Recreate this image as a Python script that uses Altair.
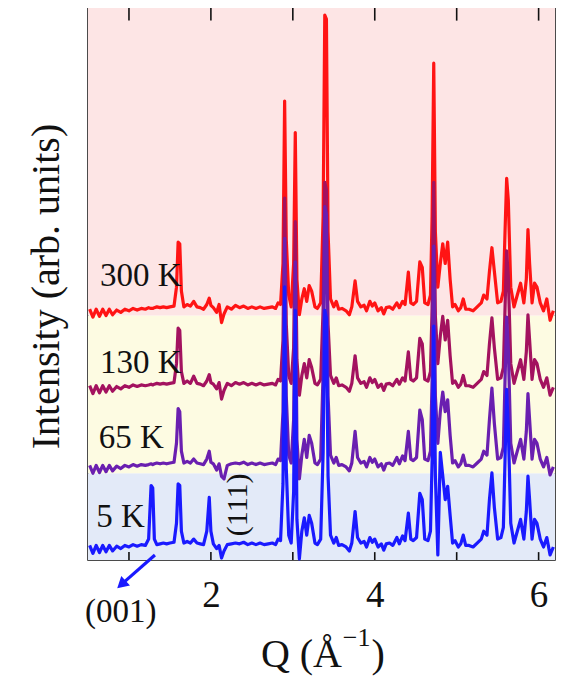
import altair as alt
import pandas as pd

# ---------------- data ----------------
q_values = [
    0.52, 0.56, 0.60, 0.64, 0.68, 0.72, 0.76, 0.80, 0.85, 0.90,
    0.95, 1.00, 1.05, 1.10, 1.15, 1.20, 1.24, 1.27, 1.29, 1.31,
    1.34, 1.38, 1.42, 1.46, 1.50, 1.55, 1.58, 1.60, 1.62, 1.64,
    1.67, 1.71, 1.75, 1.79, 1.83, 1.87, 1.91, 1.95, 1.98, 2.00,
    2.03, 2.07, 2.10, 2.13, 2.16, 2.20, 2.25, 2.30, 2.35, 2.40,
    2.45, 2.50, 2.55, 2.60, 2.65, 2.70, 2.75, 2.79, 2.82, 2.85,
    2.88, 2.90, 2.92, 2.95, 2.98, 3.01, 3.03, 3.05, 3.08, 3.11,
    3.14, 3.17, 3.20, 3.23, 3.27, 3.30, 3.34, 3.37, 3.39, 3.41,
    3.43, 3.46, 3.50, 3.53, 3.56, 3.60, 3.65, 3.69, 3.72, 3.76,
    3.79, 3.83, 3.87, 3.90, 3.94, 3.97, 4.00, 4.04, 4.08, 4.11,
    4.14, 4.18, 4.22, 4.27, 4.30, 4.34, 4.37, 4.41, 4.44, 4.47,
    4.51, 4.55, 4.58, 4.61, 4.65, 4.68, 4.70, 4.72, 4.74, 4.77,
    4.80, 4.83, 4.86, 4.89, 4.92, 4.95, 4.98, 5.02, 5.05, 5.08,
    5.11, 5.15, 5.20, 5.25, 5.30, 5.33, 5.37, 5.40, 5.43, 5.46,
    5.50, 5.54, 5.57, 5.59, 5.61, 5.63, 5.66, 5.70, 5.74, 5.78,
    5.82, 5.85, 5.87, 5.89, 5.92, 5.95, 5.98, 6.02, 6.06, 6.10,
    6.14, 6.18,
]

intensity_300K = [
    0.02, -0.08, 0.02, -0.07, 0.02, -0.06, 0.02, -0.05, 0.01, -0.02,
    0.02, 0.00, 0.03, 0.01, 0.03, 0.02, 0.04, 0.03, 0.03, 0.04,
    0.05, 0.04, 0.05, 0.04, 0.05, 0.06, 0.30, 0.87, 0.85, 0.25,
    0.05, 0.08, 0.06, 0.12, 0.05, 0.04, 0.02, 0.08, 0.16, 0.07,
    0.04, -0.02, 0.08, -0.15, -0.04, 0.05, 0.02, 0.07, 0.04, 0.06,
    0.03, 0.05, 0.03, 0.05, 0.03, 0.04, 0.05, 0.03, 0.10, 0.08,
    0.60, 2.66, 0.90, 0.20, 0.05, 0.60, 2.26, 0.40, -0.05, 0.15,
    0.28, 0.12, 0.32, 0.25, 0.05, 0.03, 0.10, 1.20, 3.75, 3.70,
    1.00, 0.15, 0.05, 0.12, 0.02, 0.03, 0.00, -0.05, 0.05, 0.38,
    0.12, 0.05, 0.07, 0.00, 0.12, 0.06, 0.10, 0.00, 0.04, -0.04,
    0.04, 0.05, 0.02, 0.10, 0.04, 0.12, 0.08, 0.49, 0.10, 0.08,
    0.12, 0.62, 0.55, 0.10, 0.08, 0.20, 1.20, 3.14, 1.00, 0.30,
    0.60, 0.85, 0.60, 0.87, 0.40, 0.05, 0.08, 0.00, 0.04, 0.15,
    0.02, 0.02, 0.00, 0.05, 0.10, 0.20, 0.15, 0.50, 0.80, 0.50,
    0.10, 0.12, 0.25, 1.00, 1.68, 1.40, 0.30, 0.05, 0.20, 0.35,
    0.10, 0.40, 1.03, 0.60, 0.10, 0.35, 0.30, 0.10, 0.00, 0.15,
    -0.12, 0.00,
]

intensity_130K = [
    0.02, -0.08, 0.02, -0.07, 0.02, -0.06, 0.02, -0.05, 0.01, -0.02,
    0.02, 0.00, 0.03, 0.01, 0.03, 0.02, 0.03, 0.04, 0.03, 0.04,
    0.05, 0.04, 0.05, 0.04, 0.05, 0.06, 0.30, 0.75, 0.72, 0.20,
    0.05, 0.08, 0.05, 0.14, 0.05, 0.04, 0.02, 0.08, 0.16, 0.06,
    0.04, -0.02, 0.06, -0.15, -0.04, 0.05, 0.02, 0.06, 0.04, 0.06,
    0.03, 0.05, 0.03, 0.05, 0.03, 0.04, 0.05, 0.03, 0.10, 0.08,
    0.60, 2.40, 0.80, 0.15, 0.05, 0.50, 2.10, 0.35, -0.10, 0.15,
    0.30, 0.12, 0.35, 0.25, 0.05, 0.03, 0.10, 1.00, 2.60, 2.50,
    0.80, 0.15, 0.05, 0.12, 0.02, 0.03, 0.00, -0.05, 0.05, 0.40,
    0.12, 0.05, 0.07, 0.00, 0.12, 0.06, 0.10, 0.00, 0.04, -0.04,
    0.04, 0.05, 0.02, 0.10, 0.04, 0.12, 0.08, 0.45, 0.10, 0.08,
    0.12, 0.62, 0.55, 0.10, 0.08, 0.20, 1.00, 2.60, 0.90, 0.30,
    0.65, 0.90, 0.60, 0.85, 0.40, 0.05, 0.08, 0.00, 0.04, 0.15,
    0.02, 0.02, 0.00, 0.05, 0.10, 0.20, 0.15, 0.55, 0.88, 0.50,
    0.10, 0.12, 0.25, 1.00, 1.73, 1.40, 0.30, 0.05, 0.20, 0.35,
    0.10, 0.45, 0.92, 0.60, 0.10, 0.35, 0.30, 0.10, 0.00, 0.12,
    -0.10, 0.00,
]

intensity_65K = [
    0.02, -0.08, 0.02, -0.07, 0.02, -0.06, 0.02, -0.05, 0.01, -0.02,
    0.02, 0.00, 0.03, 0.01, 0.03, 0.02, 0.03, 0.04, 0.03, 0.04,
    0.05, 0.04, 0.05, 0.04, 0.05, 0.06, 0.30, 0.74, 0.70, 0.20,
    0.05, 0.07, 0.05, 0.10, 0.05, 0.04, 0.03, 0.10, 0.20, 0.06,
    0.04, -0.04, 0.04, -0.12, -0.15, 0.02, 0.04, 0.05, 0.04, 0.06,
    0.03, 0.05, 0.03, 0.05, 0.03, 0.04, 0.05, 0.03, 0.10, 0.08,
    0.70, 2.90, 0.90, 0.15, 0.05, 0.60, 2.60, 0.35, -0.15, 0.15,
    0.35, 0.12, 0.40, 0.30, 0.05, 0.03, 0.10, 1.20, 3.30, 3.20,
    0.90, 0.15, 0.05, 0.12, 0.02, 0.03, 0.00, -0.05, 0.05, 0.45,
    0.12, 0.05, 0.07, 0.00, 0.12, 0.06, 0.10, 0.00, 0.04, -0.04,
    0.04, 0.05, 0.02, 0.12, 0.04, 0.14, 0.08, 0.45, 0.10, 0.08,
    0.12, 0.72, 0.60, 0.10, 0.08, 0.20, 1.10, 2.80, 0.90, 0.30,
    0.70, 0.95, 0.70, 0.85, 0.40, 0.05, 0.08, 0.00, 0.04, 0.15,
    0.02, 0.02, 0.00, 0.05, 0.10, 0.20, 0.15, 0.60, 1.00, 0.55,
    0.10, 0.12, 0.25, 1.10, 1.90, 1.50, 0.30, 0.05, 0.20, 0.35,
    0.10, 0.45, 0.93, 0.60, 0.10, 0.35, 0.30, 0.10, 0.00, 0.12,
    -0.10, 0.00,
]

intensity_5K = [
    0.02, -0.08, 0.02, -0.07, 0.02, -0.06, 0.02, -0.05, 0.01, -0.02,
    0.02, 0.00, 0.03, 0.01, 0.03, 0.02, 0.10, 0.78, 0.75, 0.10,
    0.03, 0.04, 0.05, 0.04, 0.05, 0.06, 0.30, 0.80, 0.78, 0.20,
    0.05, 0.07, 0.05, 0.10, 0.05, 0.04, 0.03, 0.20, 0.63, 0.20,
    0.04, -0.02, 0.02, -0.14, -0.05, 0.03, 0.04, 0.05, 0.04, 0.06,
    0.03, 0.05, 0.03, 0.05, 0.03, 0.04, 0.05, 0.03, 0.10, 0.08,
    0.80, 3.30, 1.00, 0.15, 0.05, 0.70, 3.00, 0.35, -0.15, 0.20,
    0.37, 0.15, 0.40, 0.30, 0.05, 0.03, 0.10, 1.20, 3.00, 2.90,
    0.90, 0.15, 0.05, 0.12, 0.02, 0.03, 0.00, -0.05, 0.05, 0.45,
    0.12, 0.05, 0.07, 0.00, 0.12, 0.06, 0.10, 0.00, 0.04, -0.04,
    0.04, 0.05, 0.02, 0.12, 0.04, 0.14, 0.08, 0.43, 0.10, 0.08,
    0.12, 0.68, 0.60, 0.10, 0.08, 0.20, 1.10, 2.80, 0.90, -0.10,
    1.20, 0.90, 0.60, 0.77, 0.40, 0.05, 0.08, 0.00, 0.04, 0.15,
    0.02, 0.02, 0.00, 0.05, 0.10, 0.20, 0.15, 0.60, 0.94, 0.50,
    0.10, 0.12, 0.25, 1.10, 2.00, 1.50, 0.30, 0.05, 0.20, 0.35,
    0.10, 0.45, 0.90, 0.60, 0.10, 0.35, 0.30, 0.10, 0.00, 0.12,
    -0.10, 0.00,
]

series_names = ["300 K", "130 K", "65 K", "5 K"]          # drawing order (back to front)
series_values = [intensity_300K, intensity_130K, intensity_65K, intensity_5K]
series_offsets = [3.16, 2.19, 1.18, 0.165]
series_colors = ["#ff1414", "#a3125f", "#6a1fb0", "#1a1aff"]
label_q = [0.645, 0.645, 0.63, 0.60]
label_y = [3.47, 2.37, 1.42, 0.42]

band_bottom = [0.0, 1.10, 3.10]
band_top = [1.10, 3.10, 7.0]
band_colors = ["#e3eaf8", "#fdfbe2", "#fde5e5"]

tick_q = [1, 2, 3, 4, 5, 6]
axis_label_q = [2, 4, 6]

# x-axis title pieces: "Q (Å", superscript "−1", ")"
title_parts = ["Q (Å", "−1", ")"]

Q_MIN, Q_MAX = 0.5, 6.2
Y_MIN, Y_MAX = 0.0, 7.0

FONT = "Liberation Serif"

# ---------------- scales ----------------
xs = alt.Scale(domain=[Q_MIN, Q_MAX], nice=False, zero=False)
ys = alt.Scale(domain=[Y_MIN, Y_MAX], nice=False, zero=False)

# background bands
bands_df = pd.DataFrame({
    "x0": [Q_MIN] * 3, "x1": [Q_MAX] * 3,
    "y0": band_bottom, "y1": band_top, "c": band_colors,
})
bands = alt.Chart(bands_df).mark_rect().encode(
    x=alt.X("x0:Q", scale=xs, axis=alt.Axis(values=axis_label_q, format="d", title=None,
                                             labelFont=FONT, labelFontSize=37,
                                             labelColor="#111", labelPadding=17,
                                             labelFlush=False, labelOverlap=False,
                                             ticks=False, domain=False, grid=False)),
    x2="x1:Q",
    y=alt.Y("y0:Q", scale=ys, axis=alt.Axis(labels=False, ticks=False, domain=False,
                                             grid=False, title="Intensity (arb. units)",
                                             titleFont=FONT, titleFontSize=40,
                                             titleFontWeight="normal", titleColor="#111",
                                             titleBaseline="alphabetic", titleX=-30,
                                             titleY=278, titleAngle=270)),
    y2="y1:Q",
    color=alt.Color("c:N", scale=None),
)

layers = [bands]

# curves
for name, vals, off, col in zip(series_names, series_values, series_offsets, series_colors):
    df = pd.DataFrame({"Q": q_values, "I": [v + off for v in vals]})
    layers.append(
        alt.Chart(df).mark_line(color=col, strokeWidth=3.2, strokeJoin="round").encode(
            x=alt.X("Q:Q", scale=xs), y=alt.Y("I:Q", scale=ys), order="Q:Q"
        )
    )

# temperature labels
lab_df = pd.DataFrame({"q": label_q, "y": label_y, "t": series_names})
layers.append(
    alt.Chart(lab_df).mark_text(font=FONT, fontSize=33, align="left",
                                baseline="alphabetic", color="#111").encode(
        x=alt.X("q:Q", scale=xs), y=alt.Y("y:Q", scale=ys), text="t:N")
)

# inward ticks on top and bottom
ticks_df = pd.DataFrame({
    "q": tick_q + tick_q,
    "y0": [Y_MAX] * 6 + [Y_MIN] * 6,
    "y1": [Y_MAX - 0.16] * 6 + [Y_MIN + 0.1] * 6,
})
layers.append(
    alt.Chart(ticks_df).mark_rule(color="#111", strokeWidth=1.6).encode(
        x=alt.X("q:Q", scale=xs), y=alt.Y("y0:Q", scale=ys), y2="y1:Q")
)

# annotations: (111) rotated, (001) with arrow
ann_df = pd.DataFrame({"q": [2.33], "y": [0.70], "t": ["(111)"]})
layers.append(
    alt.Chart(ann_df).mark_text(font=FONT, fontSize=30, angle=270, align="center",
                                baseline="middle", color="#111").encode(
        x=alt.X("q:Q", scale=xs), y=alt.Y("y:Q", scale=ys), text="t:N")
)
ann2_df = pd.DataFrame({"q": [0.90], "y": [-0.66], "t": ["(001)"]})
layers.append(
    alt.Chart(ann2_df).mark_text(font=FONT, fontSize=33, align="center",
                                 baseline="middle", color="#111").encode(
        x=alt.X("q:Q", scale=xs), y=alt.Y("y:Q", scale=ys), text="t:N")
)
arrow_df = pd.DataFrame({"q0": [1.317], "y0": [0.063], "q1": [0.94], "y1": [-0.28]})
layers.append(
    alt.Chart(arrow_df).mark_rule(color="#1a1aff", strokeWidth=3.2).encode(
        x=alt.X("q0:Q", scale=xs), y=alt.Y("y0:Q", scale=ys), x2="q1:Q", y2="y1:Q")
)
head_df = pd.DataFrame({"q": [0.925], "y": [-0.295]})
layers.append(
    alt.Chart(head_df).mark_point(shape="triangle", filled=True, size=170,
                                  color="#1a1aff", opacity=1, angle=228).encode(
        x=alt.X("q:Q", scale=xs), y=alt.Y("y:Q", scale=ys))
)

# x-axis title built from text pieces (with raised superscript)
title_df = pd.DataFrame({
    "q": [3.60, 3.61, 3.96],
    "y": [-1.36, -1.09, -1.36],
    "t": title_parts,
    "fs": [40, 26, 40],
    "al": ["right", "left", "left"],
})
for i in range(3):
    sub = title_df.iloc[[i]]
    layers.append(
        alt.Chart(sub).mark_text(font=FONT, fontSize=int(sub["fs"].iloc[0]),
                                 align=sub["al"].iloc[0], baseline="alphabetic",
                                 color="#111").encode(
            x=alt.X("q:Q", scale=xs), y=alt.Y("y:Q", scale=ys), text="t:N")
    )

chart = alt.layer(*layers).properties(
    width=467, height=552,
    padding={"left": 80, "top": 0, "right": 5, "bottom": 117},
    autosize=alt.AutoSizeParams(type="none"),
    background="white",
).configure_view(stroke="#111", strokeWidth=1.5)

chart.save("out.html", embed_options={"renderer": "svg", "actions": False})
